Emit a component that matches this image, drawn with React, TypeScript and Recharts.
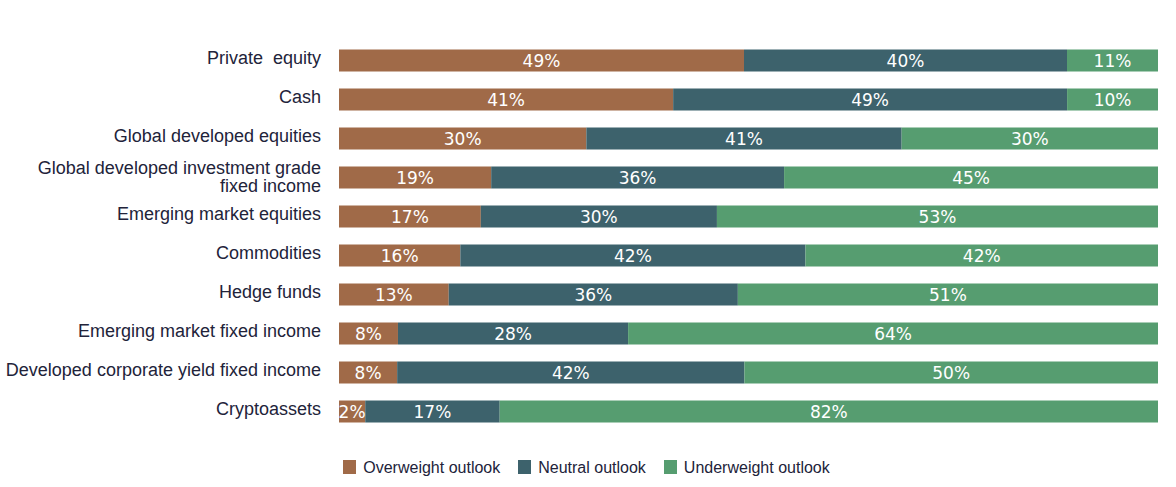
import React from 'react';
import { BarChart, Bar, XAxis, YAxis, LabelList, Legend } from 'recharts';

const categories = [
  'Private  equity',
  'Cash',
  'Global developed equities',
  'Global developed investment grade fixed income',
  'Emerging market equities',
  'Commodities',
  'Hedge funds',
  'Emerging market fixed income',
  'Developed corporate yield fixed income',
  'Cryptoassets',
];
const overweight = [49.4, 40.8, 30.2, 18.6, 17.3, 14.8, 13.4, 7.2, 7.1, 3.2];
const neutral = [39.4, 48.1, 38.5, 35.8, 28.8, 42.1, 35.3, 28.1, 42.4, 16.4];
const underweight = [11.1, 11.1, 31.3, 45.7, 53.8, 43.0, 51.3, 64.7, 50.5, 80.3];
const overweightLabels = ['49%', '41%', '30%', '19%', '17%', '16%', '13%', '8%', '8%', '2%'];
const neutralLabels = ['40%', '49%', '41%', '36%', '30%', '42%', '36%', '28%', '42%', '17%'];
const underweightLabels = ['11%', '10%', '30%', '45%', '53%', '42%', '51%', '64%', '50%', '82%'];

const seriesNames = ['Overweight outlook', 'Neutral outlook', 'Underweight outlook'];
const seriesColors = ['#A06A48', '#3D626C', '#569D70'];

const FONT = '"Liberation Sans", Arial, sans-serif';
const VALUE_FONT = '"DejaVu Sans", sans-serif';
const TEXT = '#22233a';

const data = categories.map((c, i) => ({
  name: c,
  o: overweight[i],
  n: neutral[i],
  u: underweight[i],
  oLabel: overweightLabels[i],
  nLabel: neutralLabels[i],
  uLabel: underweightLabels[i],
}));

function wrap(text: string, maxChars: number): string[] {
  if (text.length <= 40) return [text];
  const words = text.split(' ');
  const lines: string[] = [];
  let cur = '';
  for (const w of words) {
    const next = cur ? cur + ' ' + w : w;
    if (next.length > maxChars && cur) {
      lines.push(cur);
      cur = w;
    } else {
      cur = next;
    }
  }
  if (cur) lines.push(cur);
  return lines;
}

const CategoryTick = (props: any) => {
  const { x, y, payload } = props;
  const lines = wrap(String(payload.value), 34);
  const lh = 18;
  const startDy = -((lines.length - 1) * lh) / 2 + (lines.length > 1 ? 6 : 4);
  return (
    <text
      x={x}
      y={y}
      textAnchor="end"
      fill={TEXT}
      fontSize={18}
      fontFamily={FONT}
      style={{ whiteSpace: 'pre' }}
    >
      {lines.map((l, i) => (
        <tspan key={i} x={x} dy={i === 0 ? startDy : lh}>
          {l}
        </tspan>
      ))}
    </text>
  );
};

const makeLabel = () => (p: any) => {
  const { x, y, width, height, value } = p;
  return (
    <text
      x={Number(x) + Number(width) / 2}
      y={Number(y) + Number(height) / 2 + 6}
      textAnchor="middle"
      fill="#ffffff"
      fontSize={17}
      fontFamily={VALUE_FONT}
    >
      {value}
    </text>
  );
};

const LegendContent = () => (
  <div
    style={{
      height: 50,
      paddingTop: 29,
      paddingLeft: 15,
      boxSizing: 'border-box',
      display: 'flex',
      justifyContent: 'center',
      alignItems: 'flex-start',
      fontFamily: FONT,
      fontSize: 16,
      color: TEXT,
    }}
  >
    {seriesNames.map((n, i) => (
      <div
        key={n}
        style={{ display: 'flex', alignItems: 'center', marginLeft: i === 0 ? 0 : 18, height: 15 }}
      >
        <span
          style={{ display: 'inline-block', width: 13, height: 14, background: seriesColors[i], marginRight: 7 }}
        />
        <span style={{ lineHeight: '15px' }}>{n}</span>
      </div>
    ))}
  </div>
);

export default function App() {
  return (
    <div style={{ position: 'absolute', left: 0, top: 0, width: 1176, height: 487, background: '#fff' }}>
      <BarChart
        width={1176}
        height={487}
        data={data}
        layout="vertical"
        stackOffset="expand"
        margin={{ top: 40.5, right: 18, bottom: 6.5, left: 0 }}
        barSize={22}
      >
        <XAxis type="number" hide domain={[0, 1]} />
        <YAxis
          type="category"
          dataKey="name"
          width={339}
          axisLine={false}
          tickLine={false}
          tickMargin={12}
          interval={0}
          tick={<CategoryTick />}
        />
        <Legend verticalAlign="bottom" content={<LegendContent />} />
        <Bar dataKey="o" name={seriesNames[0]} stackId="a" fill={seriesColors[0]} isAnimationActive={false}>
          <LabelList dataKey="oLabel" content={makeLabel()} />
        </Bar>
        <Bar dataKey="n" name={seriesNames[1]} stackId="a" fill={seriesColors[1]} isAnimationActive={false}>
          <LabelList dataKey="nLabel" content={makeLabel()} />
        </Bar>
        <Bar dataKey="u" name={seriesNames[2]} stackId="a" fill={seriesColors[2]} isAnimationActive={false}>
          <LabelList dataKey="uLabel" content={makeLabel()} />
        </Bar>
      </BarChart>
    </div>
  );
}
